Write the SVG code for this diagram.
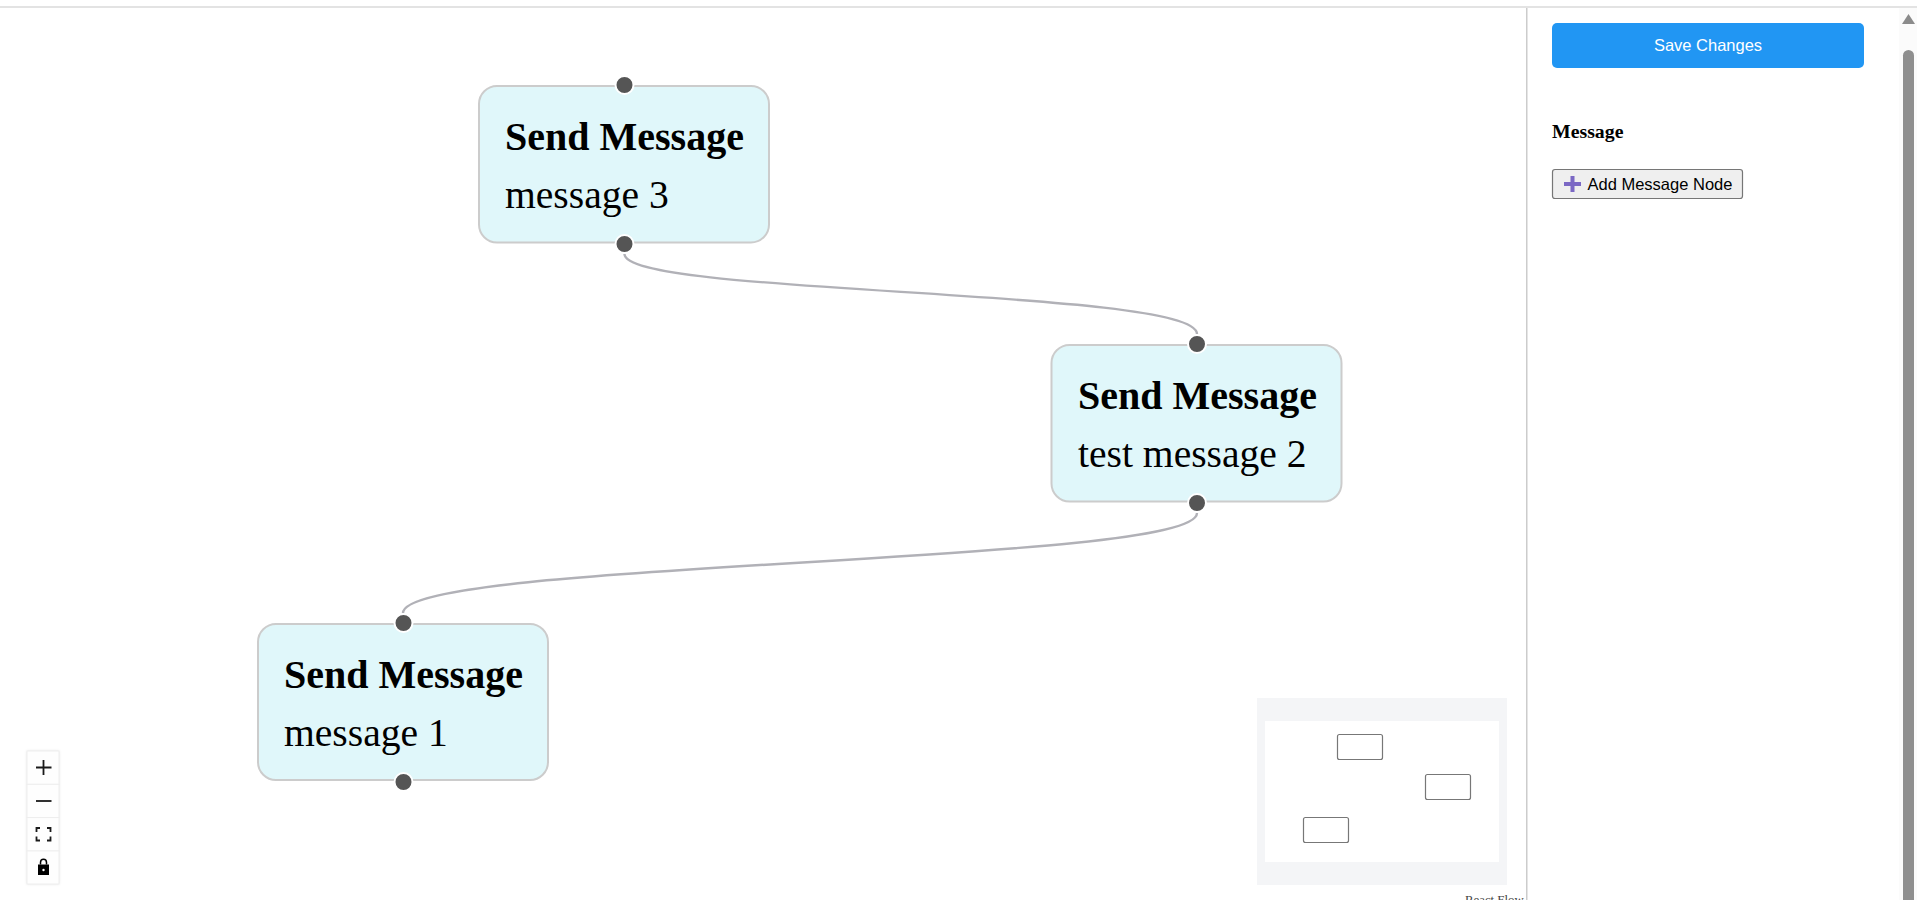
<svg xmlns="http://www.w3.org/2000/svg" width="1917" height="900" viewBox="0 0 1917 900">
<defs>
<filter id="sh" x="-30%" y="-10%" width="160%" height="120%"><feDropShadow dx="0" dy="0" stdDeviation="1.5" flood-color="#000" flood-opacity="0.12"/></filter>
</defs>
<style>
.box{fill:#e0f7fa;stroke:#cccccc;stroke-width:2}
.handle{fill:#555555;stroke:#ffffff;stroke-width:2}
.title{font:bold 40px "Liberation Serif","Times New Roman",serif;fill:#000}
.msg{font:39.6px "Liberation Serif","Times New Roman",serif;fill:#000}
.edge{fill:none;stroke:#b1b1b7;stroke-width:2.4}
.mini{fill:#fff;stroke:#777777;stroke-width:1.2}
.ui{font-family:"Liberation Sans",Arial,sans-serif;font-size:16.5px}
.ctl{fill:#fefefe;stroke:#eeeeee;stroke-width:1}
.ico{fill:none;stroke:#1a1a1a;stroke-width:1.8}
</style>
<rect width="1917" height="900" fill="#ffffff"/>
<rect x="0" y="6" width="1917" height="2" fill="#e3e3e3"/>
<g id="connectors">
<path class="edge" d="M624.5,254 C624.5,296 1197,288 1197,334"/>
<path class="edge" d="M1197,513 C1197,565 403,560 403,613"/>
</g>
<g id="node-3">
<rect class="box" x="479" y="86" width="290" height="156.5" rx="18"/>
<circle class="handle" cx="624.5" cy="85" r="9"/>
<circle class="handle" cx="624.5" cy="244" r="9"/>
<text class="title" x="505" y="150">Send Message</text>
<text class="msg" x="505" y="208">message 3</text>
</g>
<g id="node-2">
<rect class="box" x="1051.5" y="345" width="290" height="156.5" rx="18"/>
<circle class="handle" cx="1197" cy="344" r="9"/>
<circle class="handle" cx="1197" cy="503" r="9"/>
<text class="title" x="1078" y="409">Send Message</text>
<text class="msg" x="1078" y="467">test message 2</text>
</g>
<g id="node-1">
<rect class="box" x="258" y="624" width="290" height="156" rx="18"/>
<circle class="handle" cx="403.5" cy="623" r="9"/>
<circle class="handle" cx="403.5" cy="782" r="9"/>
<text class="title" x="284" y="688">Send Message</text>
<text class="msg" x="284" y="746">message 1</text>
</g>
<g id="controls">
<rect x="27" y="751" width="32" height="133" fill="#fefefe" filter="url(#sh)"/>
<rect class="ctl" x="27" y="751" width="32" height="33.3"/>
<rect class="ctl" x="27" y="784.3" width="32" height="33.3"/>
<rect class="ctl" x="27" y="817.6" width="32" height="33.3"/>
<rect class="ctl" x="27" y="850.9" width="32" height="33.1"/>
<path class="ico" d="M36,767.5H51.5M43.5,760V775"/>
<path class="ico" d="M36,801H51.5" stroke-width="2.2"/>
<path class="ico" d="M36.5,832V828H40M47,828H50.5V832M36.5,836.5V840.5H40M47,840.5H50.5V836.5"/>
<path d="M38,864.500H49V875H38Z" fill="#000"/>
<path d="M40.5,864.500V862.500A3,3.200 0 0 1 46.500,862.500V864.500" fill="none" stroke="#000" stroke-width="1.5"/>
<circle cx="43.5" cy="870" r="1.200" fill="#fff"/>
</g>
<g id="minimap">
<rect x="1257" y="698" width="250" height="187" fill="#f4f5f7"/>
<rect x="1265" y="721" width="234" height="141" fill="#ffffff"/>
<rect class="mini" x="1337.5" y="734.5" width="45" height="25" rx="2"/>
<rect class="mini" x="1425.5" y="774.5" width="45" height="25" rx="2"/>
<rect class="mini" x="1303.5" y="817.5" width="45" height="25" rx="2"/>
</g>
<text x="1465" y="903.5" font-family="Liberation Serif,Times New Roman,serif" font-size="12.8" fill="#444444">React Flow</text>
<rect x="1526" y="8" width="1.5" height="892" fill="#cccccc"/>
<g id="sidebar">
<rect x="1552" y="23" width="312" height="45" rx="5" fill="#2196f3"/>
<text class="ui" x="1708" y="50.7" text-anchor="middle" fill="#ffffff">Save Changes</text>
<text x="1552" y="138" font-family="Liberation Serif,Times New Roman,serif" font-weight="bold" font-size="19.8" fill="#000">Message</text>
<rect x="1552.5" y="169.5" width="190" height="29" rx="2.5" fill="#efefef" stroke="#767676" stroke-width="1.2"/>
<path d="M1564,184H1581M1572.500,176V192" stroke="#7b68c4" stroke-width="4" fill="none"/>
<text class="ui" x="1587.5" y="189.5" fill="#000">Add Message Node</text>
</g>
<g id="scrollbar">
<rect x="1899" y="8" width="18" height="892" fill="#fbfbfb"/>
<path d="M1908.500,14L1915,24H1902Z" fill="#8b8b8b"/>
<path d="M1903,900V55.500A5.500,5.500 0 0 1 1914,55.500V900Z" fill="#8f8f8f"/>
</g>
</svg>
